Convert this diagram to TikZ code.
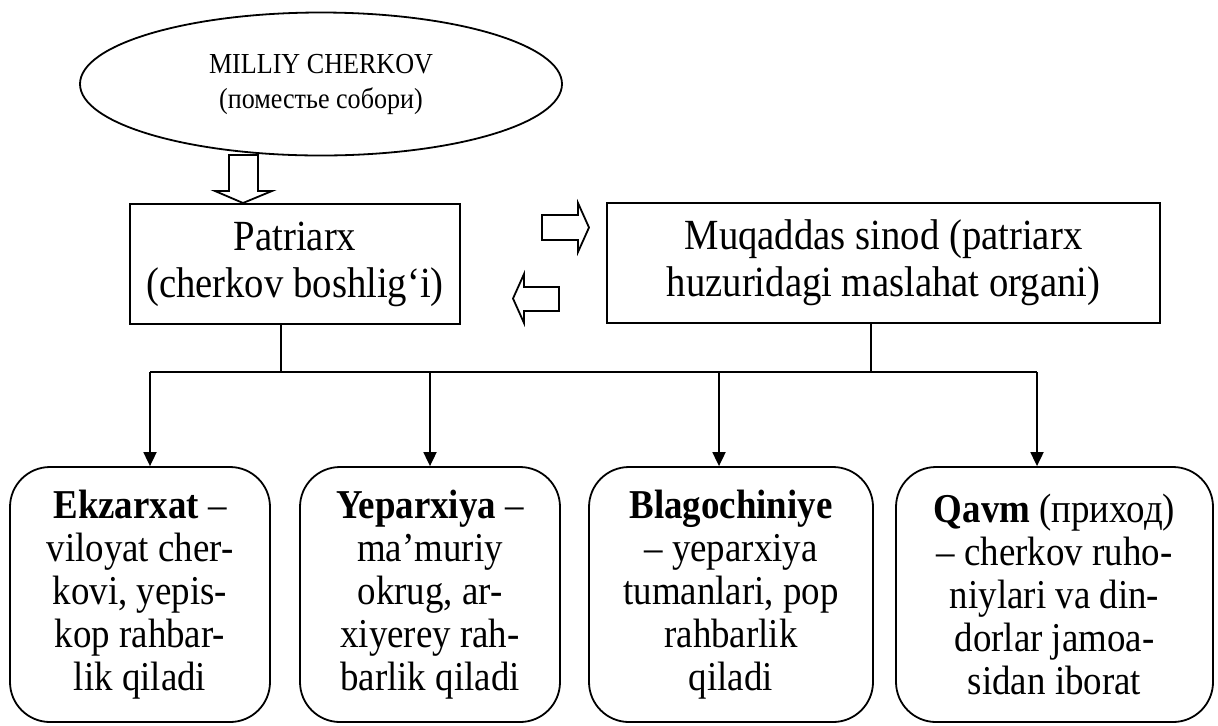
\documentclass[tikz,border=0pt]{standalone}
\usepackage{fontspec}
\setmainfont{Liberation Serif}[FakeStretch=0.9]
\usetikzlibrary{shapes.geometric,arrows.meta}
\begin{document}
\begin{tikzpicture}[x=0.5pt,y=-0.5pt,
  line width=0.9pt,
  box/.style={draw, inner sep=0pt, align=center, font=\fontsize{21.5}{23.5}\selectfont},
  rbox/.style={draw, rounded corners=20pt, inner sep=0pt, align=center,
     minimum height=127.5pt, font=\fontsize{20.5}{21.5}\selectfont},
  conn/.style={line width=0.9pt},
  arr/.style={line width=0.9pt, -{Triangle[width=6.5pt,length=7pt]}},
  blockarrow/.style={draw, line width=0.9pt, fill=white}]
\useasboundingbox (0,0) rectangle (1218,725);

\node[draw, ellipse, minimum width=241pt, minimum height=71.5pt, inner sep=0pt,
      align=center, font=\fontsize{14.5}{17.5}\selectfont] (cherkov) at (321,84)
      {MILLIY CHERKOV\\(поместье собори)};

\node[box, minimum width=165pt, minimum height=60pt] (patr) at (295,264)
      {Patriarx\\(cherkov boshlig‘i)};
\node[box, minimum width=276.5pt, minimum height=60pt] (muq) at (883.5,263)
      {Muqaddas sinod (patriarx\\huzuridagi maslahat organi)};

\node[rbox, minimum width=130pt] (ekz) at (140,594.5)
      {\textbf{Ekzarxat} –\\viloyat cher-\\kovi, yepis-\\kop rahbar-\\lik qiladi};
\node[rbox, minimum width=130pt] (yep) at (430,594.5)
      {\textbf{Yeparxiya} –\\ma’muriy\\okrug, ar-\\xiyerey rah-\\barlik qiladi};
\node[rbox, minimum width=142pt] (blago) at (731,594.5)
      {\textbf{Blagochiniye}\\– yeparxiya\\tumanlari, pop\\rahbarlik\\qiladi};
\node[rbox, minimum width=158.5pt] (qavm) at (1054.5,594.5)
      {\textbf{Qavm} (приход)\\– cherkov ruho-\\niylari va din-\\dorlar jamoa-\\sidan iborat};

% block arrows
\draw[blockarrow] (229,155) -- (258,155) -- (258,191) -- (272,191) -- (243,203)
      -- (215,191) -- (229,191) -- cycle;
\draw[blockarrow] (542,215) -- (578,215) -- (578,203) -- (589,227.5) -- (578,252)
      -- (578,240) -- (542,240) -- cycle;
\draw[blockarrow] (559,287) -- (524,287) -- (524,274) -- (513,298.5) -- (524,323)
      -- (524,311) -- (559,311) -- cycle;

% connectors
\coordinate (pj) at (281,372);
\coordinate (mj) at (871,372);
\coordinate (h1) at (150,372);
\coordinate (h2) at (430,372);
\coordinate (h3) at (719,372);
\coordinate (h4) at (1037,372);
\draw[conn] (patr.south -| pj) -- (pj);
\draw[conn] (muq.south -| mj) -- (mj);
\draw[conn] (h1) -- (h4);
\draw[arr] (h1) -- (ekz.north -| h1);
\draw[arr] (h2) -- (yep.north -| h2);
\draw[arr] (h3) -- (blago.north -| h3);
\draw[arr] (h4) -- (qavm.north -| h4);
\end{tikzpicture}
\end{document}
